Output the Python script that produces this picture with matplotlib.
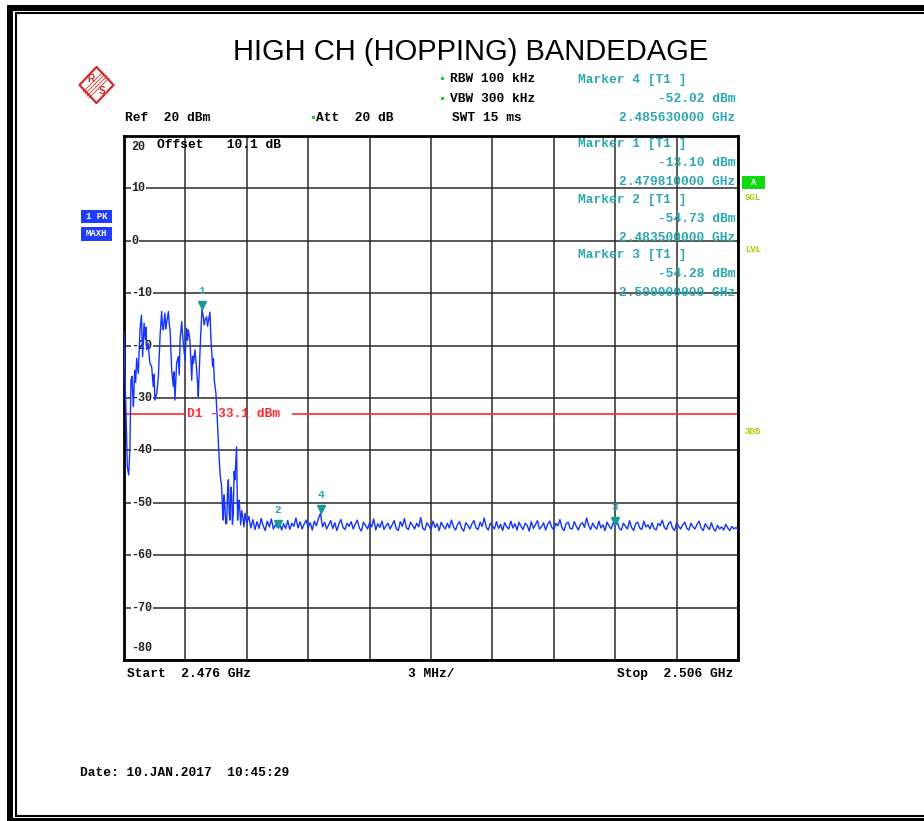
import numpy as np
import matplotlib.pyplot as plt
from matplotlib.patches import Polygon, Rectangle
from matplotlib.transforms import blended_transform_factory, offset_copy

# sweep settings
f_start = 2.476      # GHz
f_stop = 2.506       # GHz
ref_level = 20       # dBm
y_bottom = -80       # dBm
d1_level = -33.1     # display line, dBm

# trace around the band edge: offset from start (MHz) and level (dBm)
edge_mhz = [0.00, 0.05, 0.10, 0.16, 0.23, 0.29, 0.34, 0.39, 0.43, 0.46,
            0.52, 0.57, 0.62, 0.70, 0.74, 0.78, 0.85, 0.91, 0.98, 1.04,
            1.08, 1.11, 1.19, 1.23, 1.27, 1.35, 1.43, 1.47, 1.51, 1.60,
            1.68, 1.76, 1.84, 1.88, 1.92, 2.00, 2.04, 2.08, 2.17, 2.21,
            2.25, 2.33, 2.41, 2.45, 2.49, 2.57, 2.65, 2.70, 2.74, 2.82,
            2.86, 2.90, 2.98, 3.06, 3.10, 3.14, 3.22, 3.31, 3.35, 3.39,
            3.47, 3.55, 3.59, 3.63, 3.71, 3.76, 3.81, 3.88, 3.92, 3.96,
            4.04, 4.08, 4.12, 4.20, 4.25, 4.33, 4.37, 4.41, 4.49, 4.56,
            4.62, 4.69, 4.77, 4.81, 4.85, 4.89, 4.93, 4.97, 5.02, 5.06,
            5.10, 5.14, 5.18, 5.22, 5.26, 5.30, 5.34, 5.38, 5.42, 5.50,
            5.55, 5.59, 5.63, 5.70, 5.75, 5.80, 5.86, 5.91, 5.96]
edge_dbm = [-17.3, -26.0, -32.9, -43.1, -44.7, -39.3, -26.6, -25.9, -29.5, -31.6,
            -24.7, -27.0, -22.4, -25.3, -21.0, -17.0, -14.2, -22.1, -15.7, -18.9,
            -16.5, -20.8, -19.6, -22.0, -23.4, -24.0, -27.8, -25.5, -30.4, -29.1,
            -25.9, -18.3, -13.5, -16.2, -17.0, -13.8, -16.8, -15.7, -13.5, -15.9,
            -17.0, -24.7, -27.8, -25.0, -30.4, -23.4, -22.1, -25.6, -18.9, -15.4,
            -17.8, -19.6, -22.7, -16.7, -19.0, -17.0, -18.9, -26.6, -22.0, -23.4,
            -20.8, -24.7, -27.0, -29.7, -21.5, -17.0, -13.1, -14.6, -16.0, -15.1,
            -14.5, -16.3, -15.4, -13.6, -18.9, -24.0, -22.5, -26.6, -29.1, -34.2,
            -39.3, -44.4, -46.9, -51.0, -53.3, -48.5, -50.7, -54.0, -53.9, -47.5,
            -45.6, -52.0, -53.3, -47.0, -48.2, -54.1, -52.0, -44.0, -45.6, -39.3,
            -53.3, -50.0, -49.5, -54.2, -51.5, -52.6, -54.6, -52.0, -53.1]

# noise floor, 0.1 MHz steps from 6.0 MHz up to the stop frequency
floor_start_mhz = 6.0
floor_step_mhz = 0.1
floor_dbm = [
    -53.9, -52.6, -54.8, -53.2, -55.1, -53.6, -54.9, -53.0, -54.4, -55.3,
    -53.5, -54.6, -53.1, -55.0, -54.2, -54.7, -53.8, -55.2, -54.0, -54.9,
    -53.4, -55.1, -53.9, -54.5, -52.9, -54.8, -53.6, -55.0, -54.1, -53.3,
    -54.7, -53.8, -55.2, -53.5, -54.4, -53.0, -52.0, -54.6, -53.7, -55.0,
    -54.2, -53.4, -54.9, -53.8, -55.3, -54.0, -53.2, -54.7, -55.1, -53.9,
    -54.5, -53.6, -55.0, -54.1, -53.3, -54.8, -55.4, -53.7, -54.3, -55.0,
    -53.8, -54.6, -53.1, -55.2, -54.0, -54.7, -53.5, -55.1, -54.4, -53.9,
    -55.0, -54.2, -53.4, -54.9, -55.3, -53.6, -54.5, -53.0, -54.8, -55.1,
    -53.7, -54.3, -55.0, -53.9, -54.6, -52.8, -54.9, -55.2, -53.8, -54.4,
    -55.1, -53.5, -54.7, -54.0, -55.3, -53.7, -54.5, -55.0, -53.9, -54.8,
    -53.3, -54.6, -55.2, -54.1, -53.6, -54.9, -55.4, -53.8, -54.3, -55.0,
    -54.0, -53.4, -54.8, -55.1, -53.7, -54.5, -52.9, -54.7, -55.2, -53.9,
    -54.4, -55.0, -53.6, -54.9, -54.1, -55.3, -53.8, -54.6, -55.0, -53.5,
    -54.8, -54.0, -55.2, -53.7, -54.5, -55.1, -53.9, -54.3, -55.4, -53.6,
    -54.9, -54.2, -53.4, -55.0, -54.6, -53.8, -55.2, -54.1, -53.5, -54.7,
    -55.1, -53.9, -54.4, -53.2, -54.8, -55.3, -54.0, -53.7, -54.9, -55.0,
    -53.6, -54.5, -55.2, -54.1, -53.8, -54.7, -52.9, -54.3, -55.1, -53.9,
    -54.6, -55.0, -53.5, -54.8, -54.2, -55.3, -53.7, -54.4, -55.0, -53.8,
    -54.3, -53.6, -54.9, -55.2, -53.9, -54.5, -55.0, -53.4, -54.7, -55.3,
    -54.0, -53.7, -54.8, -55.1, -53.5, -54.6, -54.2, -55.0, -53.8, -54.9,
    -55.2, -53.9, -54.4, -53.3, -54.7, -55.1, -54.0, -53.6, -54.8, -55.3,
    -53.8, -54.5, -55.0, -54.2, -53.7, -54.9, -55.2, -53.9, -54.6, -55.0,
    -54.1, -53.5, -54.8, -55.3, -54.0, -54.6, -55.1, -53.8, -54.9, -55.4,
    -54.3, -55.0, -54.6, -55.2, -54.1, -54.8, -55.3, -54.5, -55.0, -54.7,
    -55.1]

marker_ids = ["1", "2", "3", "4"]
marker_ghz = [2.479810, 2.483500, 2.500000, 2.485630]
marker_dbm = [-13.10, -54.73, -54.28, -52.02]

floor_mhz = floor_start_mhz + floor_step_mhz * np.arange(len(floor_dbm))
trace_ghz = f_start + np.concatenate([edge_mhz, floor_mhz]) / 1000.0
trace_dbm = np.concatenate([edge_dbm, floor_dbm])

W, H = 924, 821
fig = plt.figure(figsize=(W / 100, H / 100), dpi=100)
fig.patch.set_facecolor("white")

mono = dict(family="Liberation Mono", weight="bold")
teal = "#2aa6ae"
trace_blue = "#1433ff"
lime = "#9fd400"
fs = 9.3

# ---- spectrum axes
L, R, T, B = 124, 738, 136, 660
ax = fig.add_axes([L / W, 1 - B / H, (R - L) / W, (B - T) / H])
ax.set_xlim(f_start, f_stop)
ax.set_ylim(y_bottom, ref_level)
ax.set_xticks(np.linspace(f_start, f_stop, 11))
ax.set_yticks(np.arange(y_bottom, ref_level + 1, 10))
ax.tick_params(length=0, labelbottom=False, labelleft=False)
ax.grid(True, color="#2b2b2b", lw=1.1)
ax.set_axisbelow(True)
for s in ax.spines.values():
    s.set_linewidth(2.0)
    s.set_color("black")

# level labels drawn inside the grid
lbl_tr = blended_transform_factory(ax.transAxes, ax.transData)
for lev in range(y_bottom, ref_level + 1, 10):
    if lev == ref_level:
        va, yoff = "top", -5
    elif lev == y_bottom:
        va, yoff = "bottom", 6
    else:
        va, yoff = "center", 0
    tr = offset_copy(lbl_tr, fig=fig, x=0, y=yoff, units="dots")
    ax.text(0.012, lev, str(lev), transform=tr, ha="left", va=va,
            fontsize=8.5, color="#222222", zorder=2.5,
            bbox=dict(facecolor="white", edgecolor="none", pad=0.6), **mono)

# display line D1 with a gap for its label
gap_lo, gap_hi = f_start + 0.0030, f_start + 0.0082
ax.hlines(d1_level, f_start, gap_lo, color="#ff2a2a", lw=1.2, zorder=2)
ax.hlines(d1_level, gap_hi, f_stop, color="#ff2a2a", lw=1.2, zorder=2)
ax.text(gap_lo + 0.0001, d1_level, f"D1 {d1_level:.1f} dBm", ha="left",
        va="center", fontsize=fs, color="#ff2a2a", zorder=2.6, **mono)

# trace
ax.plot(trace_ghz, trace_dbm, color=trace_blue, lw=1.0, zorder=3)

# markers
tri_tr = offset_copy(ax.transData, fig=fig, x=0, y=4, units="dots")
num_tr = offset_copy(ax.transData, fig=fig, x=0, y=18, units="dots")
ax.plot(marker_ghz, marker_dbm, "v", color="#159a9a", ms=5.5,
        transform=tri_tr, zorder=4)
for mid, f, lev in zip(marker_ids, marker_ghz, marker_dbm):
    ax.text(f, lev, mid, transform=num_tr, ha="center", va="center",
            fontsize=8, color=teal, zorder=4, **mono)

# ---- overlay in pixel coordinates for the instrument annotations
ov = fig.add_axes([0, 0, 1, 1], zorder=5)
ov.set_xlim(0, W)
ov.set_ylim(H, 0)
ov.axis("off")
ov.patch.set_alpha(0)

# page frame
ov.plot([10, 10], [5, H], color="black", lw=4.3, solid_capstyle="butt")
ov.plot([7, W], [8, 8], color="black", lw=4.3, solid_capstyle="butt")
ov.plot([7, W], [821, 821], color="black", lw=4.3, solid_capstyle="butt")
ov.plot([15.5, 15.5], [13, 817], color="black", lw=1.5, solid_capstyle="butt")
ov.plot([15, W], [13.5, 13.5], color="black", lw=1.5, solid_capstyle="butt")
ov.plot([15, W], [816.5, 816.5], color="black", lw=1.5, solid_capstyle="butt")

ov.text(471, 52, "HIGH CH (HOPPING) BANDEDAGE", ha="center", va="center",
        fontsize=21, family="Liberation Sans", color="black")

# logo
logo_red = "#d22b2b"
ov.add_patch(Polygon([(96.5, 67), (113.5, 85), (96.5, 103), (79.5, 85)],
                     closed=True, fill=False, ec=logo_red, lw=1.6,
                     joinstyle="round"))
for d in (-3, -1, 1, 3):
    ov.plot([86 + d, 106 + d], [95 + d, 75 + d], color=logo_red, lw=0.6)
ov.text(91, 79, "R", fontsize=7, color=logo_red, ha="center", va="center",
        family="Liberation Sans", weight="bold")
ov.text(102, 91, "S", fontsize=7, color=logo_red, ha="center", va="center",
        family="Liberation Sans", weight="bold")

# settings block
ov.text(125, 118, "Ref  20 dBm", fontsize=fs, ha="left", va="center", **mono)
ov.text(316, 118, "Att  20 dB", fontsize=fs, ha="left", va="center", **mono)
ov.text(450, 79, "RBW 100 kHz", fontsize=fs, ha="left", va="center", **mono)
ov.text(450, 99, "VBW 300 kHz", fontsize=fs, ha="left", va="center", **mono)
ov.text(452, 118, "SWT 15 ms", fontsize=fs, ha="left", va="center", **mono)
for x, y in [(313, 118), (442, 79), (442, 99)]:
    ov.add_patch(Rectangle((x - 1.5, y - 1.5), 3, 3, color="#22cc22", lw=0))

# marker readouts
blocks = [(3, 80), (0, 144), (1, 200), (2, 255)]
for idx, y0 in blocks:
    ov.text(578, y0, f"Marker {marker_ids[idx]} [T1 ]", fontsize=fs,
            color=teal, ha="left", va="center", **mono)
    ov.text(735, y0 + 19, f"{marker_dbm[idx]:.2f} dBm", fontsize=fs,
            color=teal, ha="right", va="center", **mono)
    ov.text(735, y0 + 38, f"{marker_ghz[idx]:.9f} GHz", fontsize=fs,
            color=teal, ha="right", va="center", **mono)

ov.text(157, 145, "Offset   10.1 dB", fontsize=fs, ha="left", va="center",
        **mono)

# trace info boxes on the left
ov.add_patch(Rectangle((81, 210), 31, 13, color="#1f3cff", lw=0))
ov.add_patch(Rectangle((81, 227), 31, 14, color="#1f3cff", lw=0))
ov.text(96.5, 216.5, "1 PK", fontsize=6.5, color="white", ha="center",
        va="center", **mono)
ov.text(96.5, 234, "MAXH", fontsize=6.5, color="white", ha="center",
        va="center", **mono)

# status flags on the right
ov.add_patch(Rectangle((742, 176), 23, 13, color="#11d911", lw=0))
ov.text(753.5, 182.5, "A", fontsize=6.5, color="white", ha="center",
        va="center", **mono)
for txt, y in [("SGL", 198), ("LVL", 249), ("3DB", 431)]:
    ov.text(745, y, txt, fontsize=6.5, color=lime, ha="left", va="center",
            **mono)

# frequency axis annotations
ov.text(127, 674, f"Start  {f_start:.3f} GHz", fontsize=fs, ha="left",
        va="center", **mono)
ov.text(408, 674, "3 MHz/", fontsize=fs, ha="left", va="center", **mono)
ov.text(733, 674, f"Stop  {f_stop:.3f} GHz", fontsize=fs, ha="right",
        va="center", **mono)

ov.text(80, 773, "Date: 10.JAN.2017  10:45:29", fontsize=fs, ha="left",
        va="center", **mono)

fig.savefig("out.png", dpi=100)
